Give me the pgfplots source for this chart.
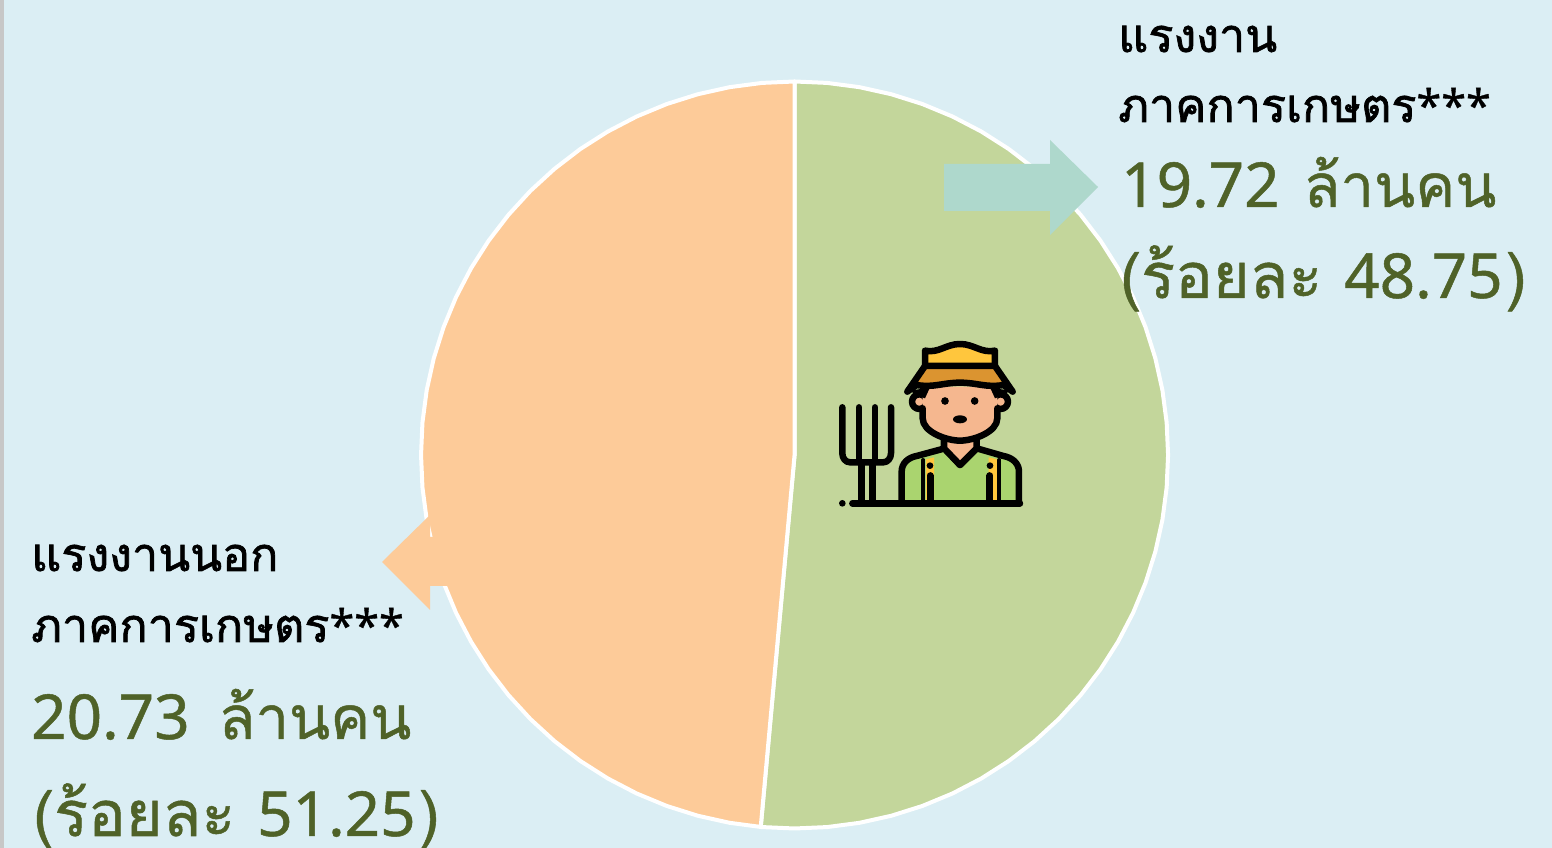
\documentclass[border=0pt]{standalone}
\usepackage{fontspec}
\usepackage{pgfplots}
\pgfplotsset{compat=1.18}
\newfontfamily\thaifont[Script=Thai,FakeBold=0.8]{Loma}
\newfontfamily\thaifake[Script=Thai,FakeBold=1.5]{Loma}
\newfontfamily\latinf[FakeBold=0.8]{Noto Sans}
\newfontfamily\latinb[FakeBold=0.8]{Noto Sans}
\definecolor{bgc}{HTML}{DBEEF4}
\definecolor{pgreen}{HTML}{C3D69B}
\definecolor{porange}{HTML}{FDCB99}
\definecolor{arrowg}{HTML}{AED8CC}
\definecolor{tgreen}{HTML}{4F6228}
\definecolor{skin}{HTML}{F5B78F}
\definecolor{shirt}{HTML}{AAD46F}
\definecolor{hatY}{HTML}{FFC63D}
\definecolor{hatO}{HTML}{DB9430}
\newcommand{\lab}[1]{{\thaifake\fontsize{46.7}{47}\selectfont #1}}
\newcommand{\stars}{{\latinf\fontsize{45}{45}\selectfont ***}}
\newcommand{\val}[1]{{\thaifont\fontsize{60}{60}\selectfont #1}}
\newcommand{\vap}[1]{{\thaifont\fontsize{63}{63}\selectfont #1}}
\newcommand{\numb}[1]{{\latinb\fontsize{62}{62}\selectfont #1}}
\begin{document}
\begin{tikzpicture}[x=1pt,y=1pt]
\fill[bgc] (0,0) rectangle (1552,848);
\fill[black!22] (0,0) rectangle (3.5,848);
\begin{axis}[anchor=south west,at={(0,0)},scale only axis,width=1552pt,height=848pt,
  hide axis,xmin=-794.5,xmax=757.5,ymin=-393,ymax=455]
\addplot[data cs=polar,fill=pgreen,draw=white,line width=4pt,line join=round] coordinates {
(0,0)(90,373.5)(85,373.5)(80,373.5)(75,373.5)(70,373.5)(65,373.5)(60,373.5)(55,373.5)(50,373.5)(45,373.5)(40,373.5)(35,373.5)(30,373.5)(25,373.5)(20,373.5)(15,373.5)(10,373.5)(5,373.5)(0,373.5)(-5,373.5)(-10,373.5)(-15,373.5)(-20,373.5)(-25,373.5)(-30,373.5)(-35,373.5)(-40,373.5)(-45,373.5)(-50,373.5)(-55,373.5)(-60,373.5)(-65,373.5)(-70,373.5)(-75,373.5)(-80,373.5)(-85,373.5)(-90,373.5)(-95,373.5)(-95.2,373.5)} -- cycle;
\addplot[data cs=polar,fill=porange,draw=white,line width=4pt,line join=round] coordinates {
(0,0)(-95.2,373.5)(-100,373.5)(-105,373.5)(-110,373.5)(-115,373.5)(-120,373.5)(-125,373.5)(-130,373.5)(-135,373.5)(-140,373.5)(-145,373.5)(-150,373.5)(-155,373.5)(-160,373.5)(-165,373.5)(-170,373.5)(-175,373.5)(-180,373.5)(-185,373.5)(-190,373.5)(-195,373.5)(-200,373.5)(-205,373.5)(-210,373.5)(-215,373.5)(-220,373.5)(-225,373.5)(-230,373.5)(-235,373.5)(-240,373.5)(-245,373.5)(-250,373.5)(-255,373.5)(-260,373.5)(-265,373.5)(-270,373.5)} -- cycle;
\end{axis}
\begin{scope}[shift={(0,848)},y=-1pt]
\fill[arrowg] (944,164)--(1050,164)--(1050,140)--(1098,187)--(1050,235)--(1050,211)--(944,211)--cycle;
\fill[porange] (449,537)--(430,537)--(430,515)--(382,562)--(430,610)--(430,586)--(449,586)--cycle;
\node[anchor=base west,inner sep=0,text=black] at (1118,52) {\lab{แรงงาน}};
\node[anchor=base west,inner sep=0,text=black] at (1118,122) {\lab{ภาคการเกษตร}\stars};
\node[anchor=base west,inner sep=0,text=tgreen] at (1121,207) {\numb{19.72}\hspace{24pt}\val{ล้านคน}};
\node[anchor=base west,inner sep=0,text=tgreen] at (1120,298) {\vap{(ร้อยละ}\hspace{22pt}\numb{48.75}\hspace{3pt}\vap{)}};
\node[anchor=base west,inner sep=0,text=black] at (31,571) {\lab{แรงงานนอก}};
\node[anchor=base west,inner sep=0,text=black] at (31,642) {\lab{ภาคการเกษตร}\stars};
\node[anchor=base west,inner sep=0,text=tgreen] at (31,739) {\numb{20.73}\hspace{29pt}\val{ล้านคน}};
\node[anchor=base west,inner sep=0,text=tgreen] at (33,836) {\vap{(ร้อยละ}\hspace{22pt}\numb{51.25}\hspace{3pt}\vap{)}};
\begin{scope}[shift={(820,330)},x=0.3333pt,y=-0.3333pt,line width=6.5pt,line cap=round,line join=round]
% fork
\draw (67,232)--(67,370) to[out=-90,in=180] (90,397)--(190,397) to[out=0,in=-90] (213,370)--(213,232);
\draw (117,232)--(117,397) (165,232)--(165,397);
\draw (125,397)--(125,520) (157,397)--(157,520);
% body
\filldraw[fill=shirt] (245,520)--(245,425) to[out=90,in=190] (290,378)--(375,355)--(420,405)--(470,355)--(550,378) to[out=-10,in=90] (597,425)--(597,520)--cycle;
\fill[hatY] (318,388)--(342,382)--(342,512)--(318,512)--cycle;
\fill[hatY] (506,382)--(532,388)--(532,512)--(506,512)--cycle;
\draw[line width=4pt] (310,390)--(310,512) (538,390)--(538,512);
\fill (330,407) circle (10);
\fill (510,407) circle (10);
\draw[line width=7pt] (330,437)--(330,512) (510,437)--(510,512);
% neck
\filldraw[fill=skin] (372,310)--(372,355)--(420,405)--(470,355)--(470,310)--cycle;
% ears
\filldraw[fill=skin] (298,215) circle (22);
\filldraw[fill=skin] (542,215) circle (22);
% face
\fill[skin] (308,170)--(308,265) to[out=-90,in=180,looseness=0.8] (420,332) to[out=0,in=-90,looseness=0.8] (532,265)--(532,170)--cycle;
\draw (308,235)--(308,265) to[out=-90,in=180,looseness=0.8] (420,332) to[out=0,in=-90,looseness=0.8] (532,265)--(532,235);
\fill (375,213) circle (11.5);
\fill (464,213) circle (11.5);
\fill (420,268) ellipse (21 and 12);
% hat
\filldraw[fill=hatY] (315,62) to[out=-12,in=180] (420,42) to[out=0,in=-168] (525,62)--(525,110)--(315,110)--cycle;
\filldraw[fill=hatO] (315,108)--(525,108)--(578,185)--(550,165) to[out=190,in=0] (420,158) to[out=180,in=-10] (290,165)--(262,185)--cycle;
\fill (272,182)--(330,172)--(315,205)--(285,195)--cycle;
\fill (568,182)--(510,172)--(525,205)--(555,195)--cycle;
% ground
\draw (97,520)--(600,520);
\fill (67,520) circle (10);
\end{scope}
\end{scope}
\pgfresetboundingbox
\path[use as bounding box] (0,0) rectangle (1552,848);
\end{tikzpicture}
\end{document}
